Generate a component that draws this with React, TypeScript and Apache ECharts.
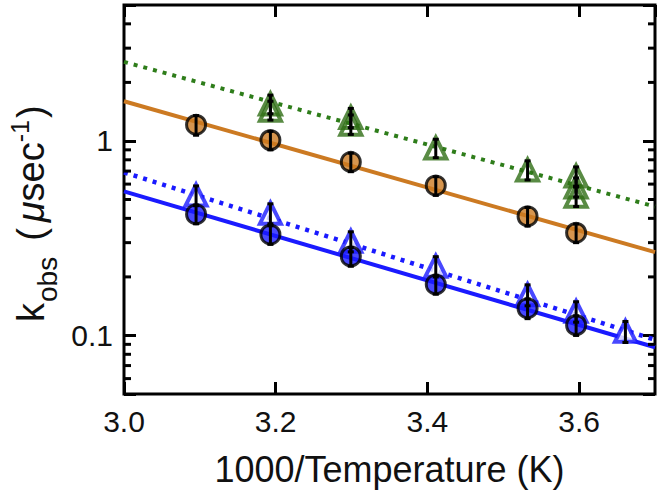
import React, { useEffect, useRef } from 'react';
import * as echarts from 'echarts';

// ---- data ----
const xCircle = [3.095, 3.193, 3.299, 3.411, 3.532, 3.596];
const orangeK = [1.21, 1.01, 0.78, 0.59, 0.41, 0.337];
const orangeErr = [0.14, 0.11, 0.085, 0.065, 0.045, 0.037];
const blueCircleK = [0.42, 0.33, 0.255, 0.183, 0.138, 0.113];
const blueCircleErr = [0.045, 0.036, 0.028, 0.02, 0.016, 0.013];

const xBlueTri = [3.095, 3.193, 3.299, 3.411, 3.532, 3.596, 3.661];
const blueTriK = [0.527, 0.425, 0.305, 0.227, 0.162, 0.133, 0.105];
const blueTriErr = [0.06, 0.05, 0.036, 0.027, 0.02, 0.016, 0.013];

const greenX = [3.193, 3.193, 3.299, 3.299, 3.411, 3.532, 3.596, 3.596, 3.596];
const greenK = [1.55, 1.44, 1.32, 1.22, 0.92, 0.71, 0.66, 0.58, 0.52];
const greenErr = [0.17, 0.16, 0.15, 0.14, 0.1, 0.08, 0.075, 0.065, 0.06];

const fitX = [3.0, 3.7];
const greenFit = [2.55, 0.46];
const orangeFit = [1.6, 0.268];
const blueDotFit = [0.69, 0.095];
const blueSolidFit = [0.55, 0.087];

const yLabelValues = [0.1, 1];
const yMinorTicks = [0.06, 0.07, 0.08, 0.09, 0.2, 0.3, 0.4, 0.5, 0.6, 0.7, 0.8, 0.9, 2, 3, 4];

const X_MIN = 3.0;
const X_MAX = 3.7;
const Y_MIN = 0.05;
const Y_MAX = 5;

const ORANGE = '#CC7A22';
const BLUE = '#1A1AFF';
const GREEN_LINE = '#2E7D1A';
const GREEN_TRI = '#2F6E15';
const FONT = '"Liberation Sans", Arial, Helvetica, sans-serif';
const TEXT = '#111';

function pairs(xs: number[], ys: number[]) {
  return xs.map((x, i) => [x, ys[i]]);
}
function errs(xs: number[], ys: number[], es: number[]) {
  return xs.map((x, i) => [x, ys[i] - es[i], ys[i] + es[i]]);
}

function measure(text: string, size: number, italic = false) {
  const c = document.createElement('canvas').getContext('2d');
  if (!c) return text.length * size * 0.55;
  c.font = `${italic ? 'italic ' : ''}${size}px "Liberation Sans", Arial, sans-serif`;
  return c.measureText(text).width;
}

function yTitle(x0: number, y0: number) {
  const F = 38;
  const S = 28;
  const P = 25;
  const tokens = [
    { t: 'k', s: F, dy: 0, it: false, gap: 1 },
    { t: 'obs', s: S, dy: 13, it: false, gap: 16 },
    { t: '(', s: F, dy: 0, it: false, gap: 6 },
    { t: 'μ', s: F, dy: 0, it: true, gap: 0 },
    { t: 'sec', s: F, dy: 0, it: false, gap: 0 },
    { t: '-1', s: P, dy: -15, it: false, gap: 2 },
    { t: ')', s: F, dy: 0, it: false, gap: 0 },
  ];
  let lx = 0;
  const children: any[] = [];
  tokens.forEach((tk) => {
    children.push({
      type: 'text',
      x: lx,
      y: tk.dy - 0.35 * tk.s,
      style: {
        text: tk.t,
        fontSize: tk.s,
        fontFamily: FONT,
        fontStyle: tk.it ? 'italic' : 'normal',
        fill: TEXT,
        align: 'left',
        verticalAlign: 'middle',
      },
    });
    lx += measure(tk.t, tk.s, tk.it) + tk.gap;
  });
  return { type: 'group', x: x0, y: y0, rotation: Math.PI / 2, children };
}

export default function App() {
  const ref = useRef<HTMLDivElement>(null);
  useEffect(() => {
    if (!ref.current) return;
    const chart = echarts.init(ref.current, undefined, { renderer: 'svg' });

    const errorSeries = (data: number[][]) => ({
      type: 'custom',
      data,
      encode: { x: 0, y: [1, 2] },
      z: 10,
      silent: true,
      renderItem: (_p: any, api: any) => {
        const x = api.value(0);
        const a = api.coord([x, api.value(2)]);
        const b = api.coord([x, api.value(1)]);
        const st = { stroke: '#000', lineWidth: 3 };
        return {
          type: 'group',
          children: [
            { type: 'line', shape: { x1: a[0], y1: a[1], x2: b[0], y2: b[1] }, style: st },
            { type: 'line', shape: { x1: a[0] - 3, y1: a[1], x2: a[0] + 3, y2: a[1] }, style: st },
            { type: 'line', shape: { x1: b[0] - 3, y1: b[1], x2: b[0] + 3, y2: b[1] }, style: st },
          ],
        };
      },
    });

    const option: any = {
      animation: false,
      backgroundColor: '#fff',
      grid: {
        left: 124,
        top: 5,
        width: 531,
        height: 389,
        show: true,
        borderColor: '#000',
        borderWidth: 3,
        backgroundColor: 'transparent',
      },
      xAxis: [
        {
          type: 'value',
          min: X_MIN,
          max: X_MAX,
          interval: 0.2,
          position: 'bottom',
          axisLine: { show: false },
          axisTick: { show: true, inside: true, length: 12, lineStyle: { color: '#000', width: 3 } },
          splitLine: { show: false },
          axisLabel: {
            show: true,
            margin: 12,
            fontSize: 30,
            fontFamily: FONT,
            color: TEXT,
            showMaxLabel: false,
            formatter: (v: number) => v.toFixed(1),
          },
          name: '1000/Temperature (K)',
          nameLocation: 'middle',
          nameGap: 57,
          nameTextStyle: { fontSize: 36, fontFamily: FONT, color: TEXT },
        },
        {
          type: 'value',
          min: X_MIN,
          max: X_MAX,
          interval: 0.2,
          position: 'top',
          axisLine: { show: false },
          axisTick: { show: true, inside: true, length: 12, lineStyle: { color: '#000', width: 3 } },
          splitLine: { show: false },
          axisLabel: { show: false },
        },
      ],
      yAxis: [
        {
          type: 'log',
          logBase: 10,
          min: Y_MIN,
          max: Y_MAX,
          position: 'left',
          axisLine: { show: false },
          axisTick: { show: true, inside: true, length: 12, lineStyle: { color: '#000', width: 3 } },
          splitLine: { show: false },
          axisLabel: {
            show: true,
            margin: 11,
            fontSize: 30,
            fontFamily: FONT,
            color: TEXT,
            formatter: (v: number) => {
              const m = yLabelValues.find((t) => Math.abs(t - v) < 1e-6);
              return m === undefined ? '' : String(m);
            },
          },
        },
        {
          type: 'log',
          logBase: 10,
          min: Y_MIN,
          max: Y_MAX,
          position: 'right',
          axisLine: { show: false },
          axisTick: { show: true, inside: true, length: 12, lineStyle: { color: '#000', width: 3 } },
          splitLine: { show: false },
          axisLabel: { show: false },
        },
      ],
      graphic: [yTitle(44, 322)],
      series: [
        {
          type: 'line',
          data: pairs(fitX, greenFit),
          showSymbol: false,
          lineStyle: { color: GREEN_LINE, width: 4, type: [4, 6], cap: 'butt' },
          z: 2,
        },
        {
          type: 'line',
          data: pairs(fitX, orangeFit),
          showSymbol: false,
          lineStyle: { color: ORANGE, width: 4 },
          z: 2,
        },
        {
          type: 'line',
          data: pairs(fitX, blueDotFit),
          showSymbol: false,
          lineStyle: { color: BLUE, width: 4.5, type: [4, 6], cap: 'butt' },
          z: 2,
        },
        {
          type: 'line',
          data: pairs(fitX, blueSolidFit),
          showSymbol: false,
          lineStyle: { color: BLUE, width: 4 },
          z: 2,
        },
        {
          type: 'scatter',
          data: pairs(greenX, greenK),
          symbol: 'triangle',
          symbolSize: 21,
          itemStyle: { color: 'rgba(255,255,255,0)', borderColor: GREEN_TRI, borderWidth: 4 },
          z: 5,
        },
        {
          type: 'scatter',
          data: pairs(xBlueTri, blueTriK),
          symbol: 'triangle',
          symbolSize: 21,
          itemStyle: { color: '#fff', borderColor: BLUE, borderWidth: 4 },
          z: 5,
        },
        {
          type: 'scatter',
          data: pairs(xCircle, orangeK),
          symbol: 'circle',
          symbolSize: 19,
          itemStyle: { color: ORANGE, borderColor: '#000', borderWidth: 3 },
          z: 6,
        },
        {
          type: 'scatter',
          data: pairs(xCircle, blueCircleK),
          symbol: 'circle',
          symbolSize: 19,
          itemStyle: { color: BLUE, borderColor: '#000', borderWidth: 3 },
          z: 6,
        },
        errorSeries(errs(greenX, greenK, greenErr)),
        errorSeries(errs(xBlueTri, blueTriK, blueTriErr)),
        errorSeries(errs(xCircle, orangeK, orangeErr)),
        errorSeries(errs(xCircle, blueCircleK, blueCircleErr)),
        {
          type: 'custom',
          data: yMinorTicks.map((v) => [X_MIN, v]),
          encode: { x: 0, y: 1 },
          z: 20,
          silent: true,
          clip: false,
          renderItem: (_p: any, api: any) => {
            const v = api.value(1);
            const l = api.coord([X_MIN, v]);
            const r = api.coord([X_MAX, v]);
            const st = { stroke: '#000', lineWidth: 3 };
            return {
              type: 'group',
              children: [
                { type: 'line', shape: { x1: l[0], y1: l[1], x2: l[0] + 7, y2: l[1] }, style: st },
                { type: 'line', shape: { x1: r[0] - 7, y1: r[1], x2: r[0], y2: r[1] }, style: st },
              ],
            };
          },
        },
      ],
    };
    chart.setOption(option);
    return () => chart.dispose();
  }, []);
  return (
    <div
      ref={ref}
      style={{ position: 'absolute', left: 0, top: 0, width: 664, height: 493, background: '#fff' }}
    />
  );
}
